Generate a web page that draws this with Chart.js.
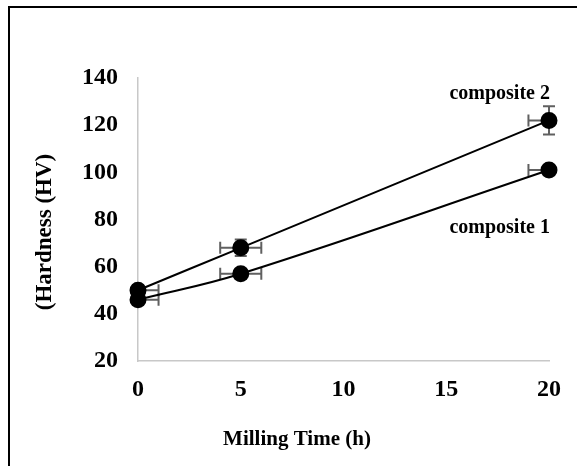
<!DOCTYPE html>
<html><head><meta charset="utf-8">
<script src="https://cdn.jsdelivr.net/npm/chart.js@4/dist/chart.umd.min.js"></script>
<style>
html,body{margin:0;padding:0;background:#fff;overflow:hidden}
#wrap{position:relative;width:577px;height:466px}
#frame{position:absolute;left:8px;top:6px;width:620px;height:520px;border-left:2px solid #000;border-top:2px solid #000;pointer-events:none}
canvas{display:block}
</style></head><body>
<div id="wrap"><canvas id="c" width="577" height="466"></canvas><div id="frame"></div></div>
<script>
// ---- data ----
const millingTime = [0, 5, 20];
const composite1 = [46, 57, 101];
const composite2 = [50, 68, 122];
const timeErr = [1, 1, 1];
const composite1Err = [2, 2, 2];
const composite2Err = [2, 3.5, 6];
const seriesNames = ['composite 1', 'composite 2'];
const xTickValues = [0, 5, 10, 15, 20];
const yTickValues = [20, 40, 60, 80, 100, 120, 140];
const xTitle = 'Milling Time (h)';
const yTitle = '(Hardness (HV)';

const FONT = "'Liberation Serif', 'Times New Roman', serif";

const toPoints = (ys) => millingTime.map((t, i) => ({ x: t, y: ys[i] }));

const errorBars = {
  id: 'errorBars',
  beforeDatasetsDraw(chart, args, opts) {
    const { ctx, chartArea, scales: { x, y } } = chart;
    ctx.save();
    ctx.strokeStyle = opts.color;
    ctx.lineWidth = opts.width;
    const cap = opts.cap;
    chart.data.datasets.forEach((ds) => {
      ds.data.forEach((p, i) => {
        const px = x.getPixelForValue(p.x);
        const py = y.getPixelForValue(p.y);
        // horizontal
        const xe = ds.xErr[i];
        let x0 = x.getPixelForValue(p.x - xe), x1 = x.getPixelForValue(p.x + xe);
        const c0 = x0 < chartArea.left - 0.5, c1 = x1 > chartArea.right + 0.5;
        x0 = Math.max(x0, chartArea.left); x1 = Math.min(x1, chartArea.right);
        ctx.beginPath();
        ctx.moveTo(x0, py); ctx.lineTo(x1, py);
        if (!c0) { ctx.moveTo(x0, py - cap); ctx.lineTo(x0, py + cap); }
        if (!c1) { ctx.moveTo(x1, py - cap); ctx.lineTo(x1, py + cap); }
        ctx.stroke();
        // vertical
        const ye = ds.yErr[i];
        const y0 = y.getPixelForValue(p.y - ye), y1 = y.getPixelForValue(p.y + ye);
        ctx.beginPath();
        ctx.moveTo(px, y0); ctx.lineTo(px, y1);
        ctx.moveTo(px - cap, y0); ctx.lineTo(px + cap, y0);
        ctx.moveTo(px - cap, y1); ctx.lineTo(px + cap, y1);
        ctx.stroke();
      });
    });
    ctx.restore();
  }
};

const textLayer = {
  id: 'textLayer',
  afterDraw(chart, args, opts) {
    const { ctx, scales: { x, y } } = chart;
    ctx.save();
    ctx.fillStyle = '#000';
    ctx.textAlign = 'center';
    ctx.textBaseline = 'middle';
    // series labels
    ctx.font = `bold ${opts.labelSize}px ${FONT}`;
    opts.labels.forEach((l) => {
      ctx.fillText(l.text, x.getPixelForValue(l.x), y.getPixelForValue(l.y));
    });
    // axis titles
    ctx.font = `bold ${opts.xTitleSize}px ${FONT}`;
    ctx.fillText(xTitle, opts.xTitlePos[0], opts.xTitlePos[1]);
    ctx.translate(opts.yTitlePos[0], opts.yTitlePos[1]);
    ctx.rotate(-Math.PI / 2);
    ctx.font = `bold ${opts.yTitleSize}px ${FONT}`;
    ctx.fillText(yTitle, 0, 0);
    ctx.restore();
  }
};

const lineStyle = {
  showLine: true,
  borderColor: '#000',
  borderWidth: 2,
  backgroundColor: '#000',
  pointBackgroundColor: '#000',
  pointBorderColor: '#000',
  pointRadius: 7.5,
  pointHoverRadius: 7.5,
  tension: 0.4,
  clip: false
};

new Chart(document.getElementById('c'), {
  type: 'scatter',
  data: {
    datasets: [
      Object.assign({ label: seriesNames[0], data: toPoints(composite1), xErr: timeErr, yErr: composite1Err }, lineStyle),
      Object.assign({ label: seriesNames[1], data: toPoints(composite2), xErr: timeErr, yErr: composite2Err }, lineStyle)
    ]
  },
  options: {
    responsive: false,
    animation: false,
    events: [],
    layout: { padding: { top: 78, right: 28, left: 0, bottom: 0 } },
    plugins: {
      legend: { display: false },
      tooltip: { enabled: false },
      errorBars: { color: '#606060', width: 2, cap: 6 },
      textLayer: {
        labelSize: 20,
        labels: [
          { text: seriesNames[1], x: 17.6, y: 133.2 },
          { text: seriesNames[0], x: 17.6, y: 76.4 }
        ],
        xTitleSize: 21, xTitlePos: [297, 440],
        yTitleSize: 23, yTitlePos: [45, 232]
      }
    },
    scales: {
      x: {
        type: 'linear', min: 0, max: 20,
        afterBuildTicks: (s) => { s.ticks = xTickValues.map(v => ({ value: v })); },
        afterFit: (s) => { s.height = 105; },
        grid: { display: false, drawTicks: false },
        border: { display: true, color: '#c8c8c8', width: 1.5 },
        ticks: { color: '#000', padding: 14, maxRotation: 0, font: { family: FONT, size: 24, weight: 'bold' } }
      },
      y: {
        type: 'linear', min: 20, max: 140,
        afterBuildTicks: (s) => { s.ticks = yTickValues.map(v => ({ value: v })); },
        afterFit: (s) => { s.width = 138; },
        grid: { display: false, drawTicks: false },
        border: { display: true, color: '#c8c8c8', width: 1.5 },
        ticks: { color: '#000', padding: 20, font: { family: FONT, size: 24, weight: 'bold' } }
      }
    }
  },
  plugins: [errorBars, textLayer]
});
</script>
</body></html>
